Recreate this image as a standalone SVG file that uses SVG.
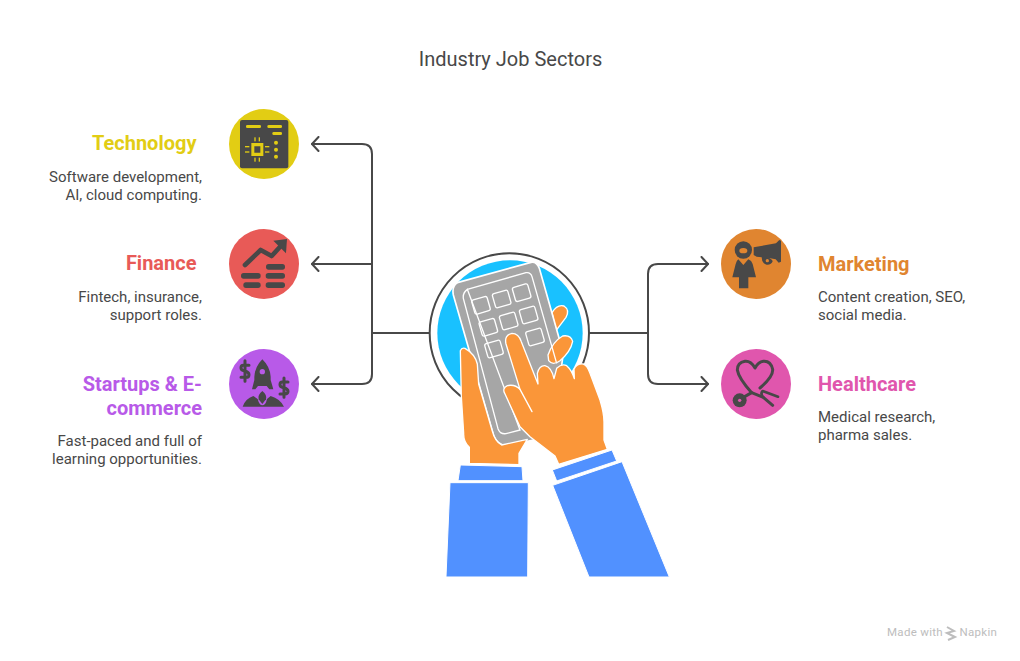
<svg xmlns="http://www.w3.org/2000/svg" width="1020" height="661" viewBox="0 0 1020 661">
<style>
text{font-family:Roboto,"Liberation Sans",sans-serif;fill:#484848}
.t{font-size:20px;text-anchor:middle}
.h{font-size:20px;font-weight:700}
.b{font-size:15px}
.e{text-anchor:end}
.c{fill:none;stroke:#484848;stroke-width:2;stroke-linecap:round;stroke-linejoin:round}
.d{fill:#484848}
.s{fill:none;stroke:#484848;stroke-linecap:round;stroke-linejoin:round}
.o{fill:#fa9639;stroke:#fff;stroke-width:4;stroke-linejoin:round}
.bl{fill:#5191ff;stroke:#fff;stroke-width:3;stroke-linejoin:round}
.k{fill:none;stroke:#fff;stroke-width:4}
.w{font-size:11.5px;fill:#bdbdbd;letter-spacing:.3px}
</style>
<defs>
<marker id="a" markerUnits="userSpaceOnUse" markerWidth="14" markerHeight="16" refX="12.500" refY="8" orient="auto" viewBox="0 0 14 16"><path d="M6 1L12.500 8L6 15" fill="none" stroke="#484848" stroke-width="2" stroke-linecap="round" stroke-linejoin="round"/></marker>
</defs>
<text class="t" x="510.500" y="66">Industry Job Sectors</text>
<g id="connectors">
<path class="c" marker-end="url(#a)" d="M430 333H372V154Q372 144 362 144H312"/>
<path class="c" marker-end="url(#a)" d="M372 264H312"/>
<path class="c" marker-end="url(#a)" d="M372 333V374Q372 384 362 384H312"/>
<path class="c" marker-end="url(#a)" d="M590 333H648V274Q648 264 658 264H708"/>
<path class="c" marker-end="url(#a)" d="M648 333V374Q648 384 658 384H708"/>
</g>
<g id="center" transform="translate(420 240) scale(.33333)">
<circle cx="268" cy="279" r="239" fill="#fff" stroke="#484848" stroke-width="6"/>
<circle cx="270" cy="279" r="218" fill="#19c1ff"/>
<path class="o" d="M396 218Q412 192 432 198Q450 210 438 232L408 272Z"/>
<path d="M112 128L333 67Q350 64 358 85L430 340L395 590L262 616Q235 618 222 590L100 165Q95 138 112 128Z" fill="#a6a6a6" stroke="#fff" stroke-width="5" stroke-linejoin="round"/>
<path class="o" d="M384 345Q398 305 428 288Q452 284 458 304Q452 335 420 362Q398 378 386 362Z"/>
<path class="k" d="M142 148L318 98Q332 96 336 110L410 370M300 570L258 581Q240 583 234 566L130 175Q128 158 142 148Z"/>
<g class="k"><rect x="159" y="174" width="48" height="44" rx="6" transform="rotate(-16 183 196)"/><rect x="221" y="155" width="48" height="44" rx="6" transform="rotate(-16 245 177)"/><rect x="281" y="136" width="48" height="44" rx="6" transform="rotate(-16 305 158)"/><rect x="181" y="240" width="48" height="44" rx="6" transform="rotate(-16 205 262)"/><rect x="242" y="221" width="48" height="44" rx="6" transform="rotate(-16 266 243)"/><rect x="302" y="203" width="48" height="44" rx="6" transform="rotate(-16 326 225)"/><rect x="198" y="305" width="48" height="44" rx="6" transform="rotate(-16 222 327)"/><rect x="321" y="269" width="48" height="44" rx="6" transform="rotate(-16 345 291)"/></g>
<path class="o" d="M121 332Q125 322 135 325Q165 342 172 372L176 432L216 570Q225 605 245 615L322 598L297 640V674L148 670V622Q130 605 131 580L124 470Z"/>
<path class="o" d="M254 460Q246 445 262 437Q285 432 300 448L258 312Q252 285 276 280Q296 280 304 305L354 432L352 400Q358 376 375 377Q395 382 402 416L410 385Q425 370 440 377Q455 390 463 416L462 388Q470 370 490 372Q502 376 510 400L540 480Q552 520 552 545V600L562 628L416 673L405 648L330 590L300 560Z"/>
<path d="M300 448L336 515" fill="none" stroke="#fff" stroke-width="4" stroke-linecap="round"/>
<path class="bl" d="M121 675L306 680L309 722H114Z"/>
<path class="bl" d="M90 728H325L323 1011H78Z"/>
<path class="bl" d="M397 690L576 630L590 663L410 723Z"/>
<path class="bl" d="M398 736L606 665L748 1011H507Z"/>
</g>
<g id="technology">
<circle cx="264" cy="144" r="35" fill="#e2cd14"/>
<g transform="translate(220 100) scale(.33333)">
<rect x="60" y="60" width="145" height="145" rx="6" class="d"/>
<g fill="#e2cd14"><rect x="78" y="75" width="45" height="9" rx="4"/><rect x="142" y="75" width="44" height="9" rx="4"/><rect x="157" y="96" width="29" height="9" rx="4"/><circle cx="168" cy="128" r="6"/><circle cx="168" cy="149" r="6"/><circle cx="168" cy="170" r="6"/><path d="M94 129H130V168H94ZM103 139V158H121V139Z" fill-rule="evenodd"/><rect x="103" y="112" width="4" height="12"/><rect x="116" y="112" width="4" height="12"/><rect x="103" y="173" width="4" height="12"/><rect x="116" y="173" width="4" height="12"/><rect x="75" y="138" width="13" height="4"/><rect x="75" y="154" width="13" height="4"/><rect x="135" y="138" width="13" height="4"/><rect x="135" y="154" width="13" height="4"/></g>
</g>
<text class="h e" style="fill:#e2cd14" x="196.500" y="150">Technology</text>
<text class="b e" x="202" y="182">Software development,</text>
<text class="b e" x="202" y="200">AI, cloud computing.</text>
</g>
<g id="finance">
<circle cx="264" cy="264" r="35" fill="#e85a57"/>
<g transform="translate(220 220) scale(.33333)">
<path class="s" stroke-width="14" d="M75 135L122 90L155 108L185 75"/>
<path class="d" d="M160 62L201 57L198 100Z"/>
<g class="d"><rect x="138" y="132" width="57" height="17" rx="8"/><rect x="63" y="159" width="59" height="17" rx="8"/><rect x="137" y="159" width="58" height="17" rx="8"/><rect x="70" y="187" width="52" height="17" rx="8"/><rect x="137" y="187" width="58" height="17" rx="8"/></g>
</g>
<text class="h e" style="fill:#e85a57" x="196.500" y="270">Finance</text>
<text class="b e" x="202" y="302">Fintech, insurance,</text>
<text class="b e" x="202" y="320">support roles.</text>
</g>
<g id="startups">
<circle cx="264" cy="384" r="35" fill="#b85ae8"/>
<g transform="translate(220 340) scale(.33333)">
<path class="d" d="M127 58Q150 80 152 110V120L160 148H148L140 138H114L106 148H96L103 120V110Q105 80 127 58Z"/>
<circle cx="127" cy="95" r="8" fill="#b85ae8"/>
<path class="d" d="M68 200Q76 176 100 168L113 177Q118 196 127 196Q137 196 141 177L152 168Q180 176 192 200Z"/>
<path class="d" d="M127 153Q142 165 138 178L127 192L116 178Q112 165 127 153Z"/>
<path class="s" stroke-width="9" d="M87 76H70Q63 76 63 84Q63 91 74 93Q87 96 87 104Q87 112 78 112H63M75 62V124"/>
<path class="s" stroke-width="9" d="M204 126H187Q180 126 180 134Q180 141 191 143Q204 146 204 154Q204 162 195 162H180M192 114V172"/>
</g>
<text class="h e" style="fill:#b85ae8" x="202" y="391">Startups &amp; E-</text>
<text class="h e" style="fill:#b85ae8" x="202" y="415">commerce</text>
<text class="b e" x="202" y="446">Fast-paced and full of</text>
<text class="b e" x="202" y="464">learning opportunities.</text>
</g>
<g id="marketing">
<circle cx="756" cy="264" r="35" fill="#e08530"/>
<g transform="translate(710 220) scale(.33333)">
<circle cx="100" cy="90" r="26" class="d"/>
<ellipse cx="100" cy="92" rx="12" ry="8" fill="#e08530"/>
<path class="d" d="M85 118L100 135L115 118Q125 122 128 132L138 172H115V205H87V172H67L77 132Q80 122 85 118Z"/>
<path class="d" d="M131 82L198 70L208 60L213 62V125L206 128L197 118L172 113Q187 116 188 124Q184 135 170 134Q155 130 155 112L140 110L131 105Z"/>
<circle cx="172" cy="122" r="5" fill="#e08530"/>
</g>
<text class="h" style="fill:#e08530" x="818" y="271">Marketing</text>
<text class="b" x="818" y="302">Content creation, SEO,</text>
<text class="b" x="818" y="320">social media.</text>
</g>
<g id="healthcare">
<circle cx="756" cy="384" r="35" fill="#e056ad"/>
<g transform="translate(710 340) scale(.33333)">
<path class="s" stroke-width="9" d="M150 144Q190 110 188 88Q182 62 160 64Q145 66 135 84Q122 62 105 64Q82 68 82 90Q86 115 125 158L160 172L188 196"/>
<path class="s" stroke-width="8" d="M160 172Q150 162 158 153L204 170"/>
<path class="s" stroke-width="9" d="M125 158L100 172"/>
<circle cx="89" cy="181" r="21" class="d"/>
<circle cx="89" cy="181" r="5" fill="#e056ad"/>
</g>
<text class="h" style="fill:#e056ad" x="818" y="391">Healthcare</text>
<text class="b" x="818" y="422">Medical research,</text>
<text class="b" x="818" y="440">pharma sales.</text>
</g>
<g id="watermark">
<text class="w" x="887" y="636">Made with</text>
<path d="M947 627L954 631L947 633L955 637L948 640" fill="none" stroke="#bdbdbd" stroke-width="2"/>
<text class="w" x="959.500" y="636">Napkin</text>
</g>
</svg>
